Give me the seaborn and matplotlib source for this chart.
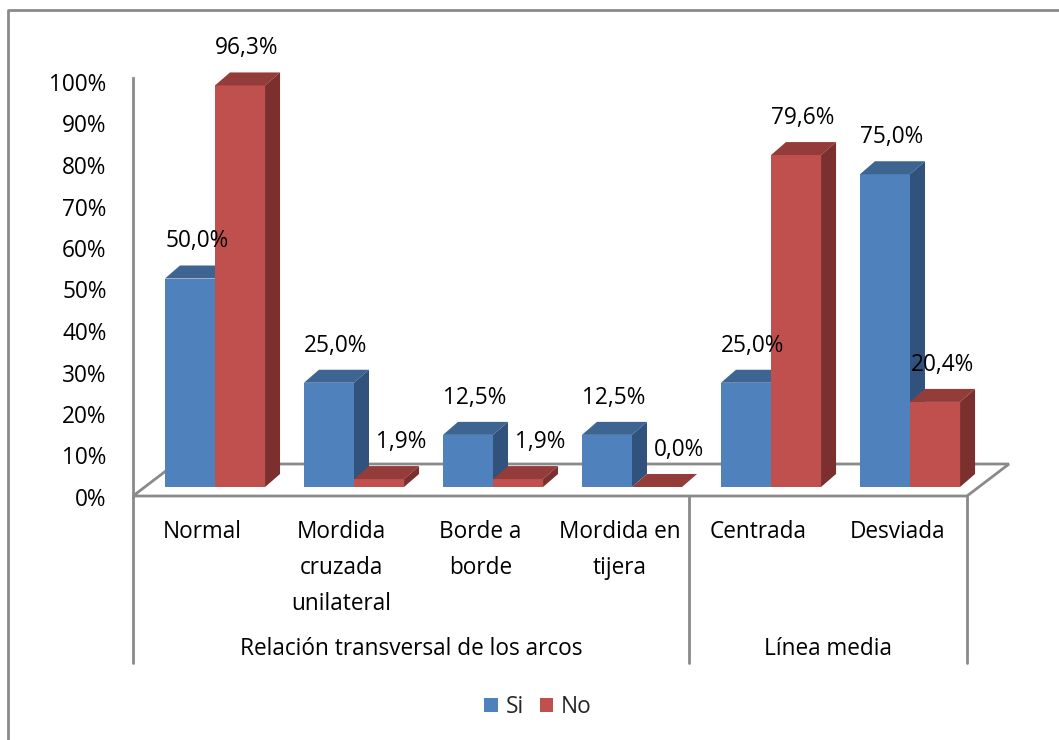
import numpy as np
import pandas as pd
import matplotlib
matplotlib.use("Agg")
import matplotlib.pyplot as plt
from matplotlib.patches import Polygon
from matplotlib.lines import Line2D
import seaborn as sns

# ---------------- data ----------------
categories = ["Normal", "Mordida\ncruzada\nunilateral", "Borde a\nborde",
              "Mordida en\ntijera", "Centrada", "Desviada"]
groups = ["Relación transversal de los arcos", "Línea media"]
group_sizes = [4, 2]
series = ["Si", "No"]
si_values = [50.0, 25.0, 12.5, 12.5, 25.0, 75.0]
no_values = [96.3, 1.9, 1.9, 0.0, 79.6, 20.4]
y_ticks = [0, 10, 20, 30, 40, 50, 60, 70, 80, 90, 100]

# ---------------- style ----------------
sns.set_theme(style="white")
plt.rcParams["font.family"] = ["Open Sans", "DejaVu Sans"]
FS = 16.3
GRAY = "#8a8a8a"
front = {"Si": "#4F81BD", "No": "#C0504D"}
topc = {"Si": "#3E6592", "No": "#943C3A"}
sidec = {"Si": "#31527C", "No": "#7B2F2E"}

W, H = 1059, 740
fig = plt.figure(figsize=(W / 100, H / 100), dpi=100)
fig.patch.set_facecolor("white")

def fx(px):
    return px / W

def fy(py):
    return 1 - py / H

# canvas for decorations in pixel coordinates
canvas = fig.add_axes([0, 0, 1, 1], zorder=0)
canvas.set_xlim(0, W)
canvas.set_ylim(H, 0)
canvas.axis("off")

# outer chart border
canvas.add_line(Line2D([8, 8, W], [H, 10, 10], color=GRAY, lw=2))

# floor
floor_front_l, floor_front_r, floor_y = 133, 967, 496
fdx, fdy = 42, -32
canvas.add_patch(Polygon([(floor_front_l, floor_y), (floor_front_r, floor_y),
                          (floor_front_r + fdx, floor_y + fdy),
                          (floor_front_l + fdx, floor_y + fdy)],
                         closed=True, facecolor="white", edgecolor=GRAY, lw=2))

# category & group labels, separators
ncat = len(categories)
step = (floor_front_r - floor_front_l) / ncat
for i, c in enumerate(categories):
    canvas.text(floor_front_l + step * (i + 0.5), 520, c, ha="center", va="top",
                fontsize=FS, linespacing=1.66, color="black")
bounds = [0] + list(np.cumsum(group_sizes))
for b in bounds:
    xb = floor_front_l + step * b
    canvas.add_line(Line2D([xb, xb], [floor_y, 663], color=GRAY, lw=2))
for g, a, b in zip(groups, bounds[:-1], bounds[1:]):
    canvas.text(floor_front_l + step * (a + b) / 2, 649, g, ha="center", va="center",
                fontsize=FS, color="black")

# value axis (back wall scale)
ax2 = fig.add_axes([fx(133), fy(497), fx(834), (497 - 82) / H], zorder=1)
ax2.set_facecolor("none")
ax2.set_ylim(0, 100)
ax2.set_xlim(0, 1)
ax2.set_yticks(y_ticks)
ax2.set_yticklabels([f"{t}%" for t in y_ticks], fontsize=FS, color="black")
ax2.set_xticks([])
for s in ["top", "right", "bottom"]:
    ax2.spines[s].set_visible(False)
ax2.spines["left"].set_color(GRAY)
ax2.spines["left"].set_linewidth(2)
ax2.spines["left"].set_bounds(0, 101)
ax2.tick_params(axis="y", length=0, pad=19)

# bars
df = pd.DataFrame({
    "categoria": categories * 2,
    "serie": ["Si"] * ncat + ["No"] * ncat,
    "valor": si_values + no_values,
})
ax = fig.add_axes([fx(145.5), fy(487), fx(834), 417 / H], zorder=2)
ax.set_facecolor("none")
sns.barplot(data=df, x="categoria", y="valor", hue="serie", order=categories,
            hue_order=series, palette=front, width=0.72, saturation=1,
            linewidth=0, ax=ax, legend=False)
ax.set_xlim(-0.5, ncat - 0.5)
ax.set_ylim(0, 100)
ax.axis("off")

fig.canvas.draw()
bdx, bdy = 15, 13  # bar depth in pixels (display: up is +)
inv = ax.transData.inverted()
for k, (cont, s) in enumerate(zip(ax.containers, series)):
    for p in cont.patches:
        p.set_zorder(2 + k)
        x0, y0 = ax.transData.transform((p.get_x(), p.get_y()))
        x1, y1 = ax.transData.transform((p.get_x() + p.get_width(), p.get_y() + p.get_height()))
        top = [(x0, y1), (x1, y1), (x1 + bdx, y1 + bdy), (x0 + bdx, y1 + bdy)]
        side = [(x1, y0), (x1, y1), (x1 + bdx, y1 + bdy), (x1 + bdx, y0 + bdy)]
        ax.add_patch(Polygon(inv.transform(top), closed=True, facecolor=topc[s],
                             edgecolor="none", zorder=2 + k))
        ax.add_patch(Polygon(inv.transform(side), closed=True, facecolor=sidec[s],
                             edgecolor="none", zorder=2 + k))
        v = p.get_height()
        xoff = 7 if v >= 5 else 22
        ax.annotate(f"{v:.1f}".replace(".", ",") + "%",
                    xy=(p.get_x() + p.get_width() / 2, v),
                    xytext=(xoff, bdy + 24), textcoords="offset pixels",
                    ha="center", va="center", fontsize=FS, color="black",
                    annotation_clip=False, zorder=10)

# legend
handles = [plt.Rectangle((0, 0), 1, 1, facecolor=front[s], edgecolor="none") for s in series]
fig.legend(handles, series, loc="center", bbox_to_anchor=(fx(538), fy(707)),
           ncol=2, frameon=False, fontsize=FS, handlelength=0.6, handleheight=0.6,
           handletextpad=0.35, columnspacing=0.7)

fig.savefig("out.png", dpi=100, facecolor="white")
